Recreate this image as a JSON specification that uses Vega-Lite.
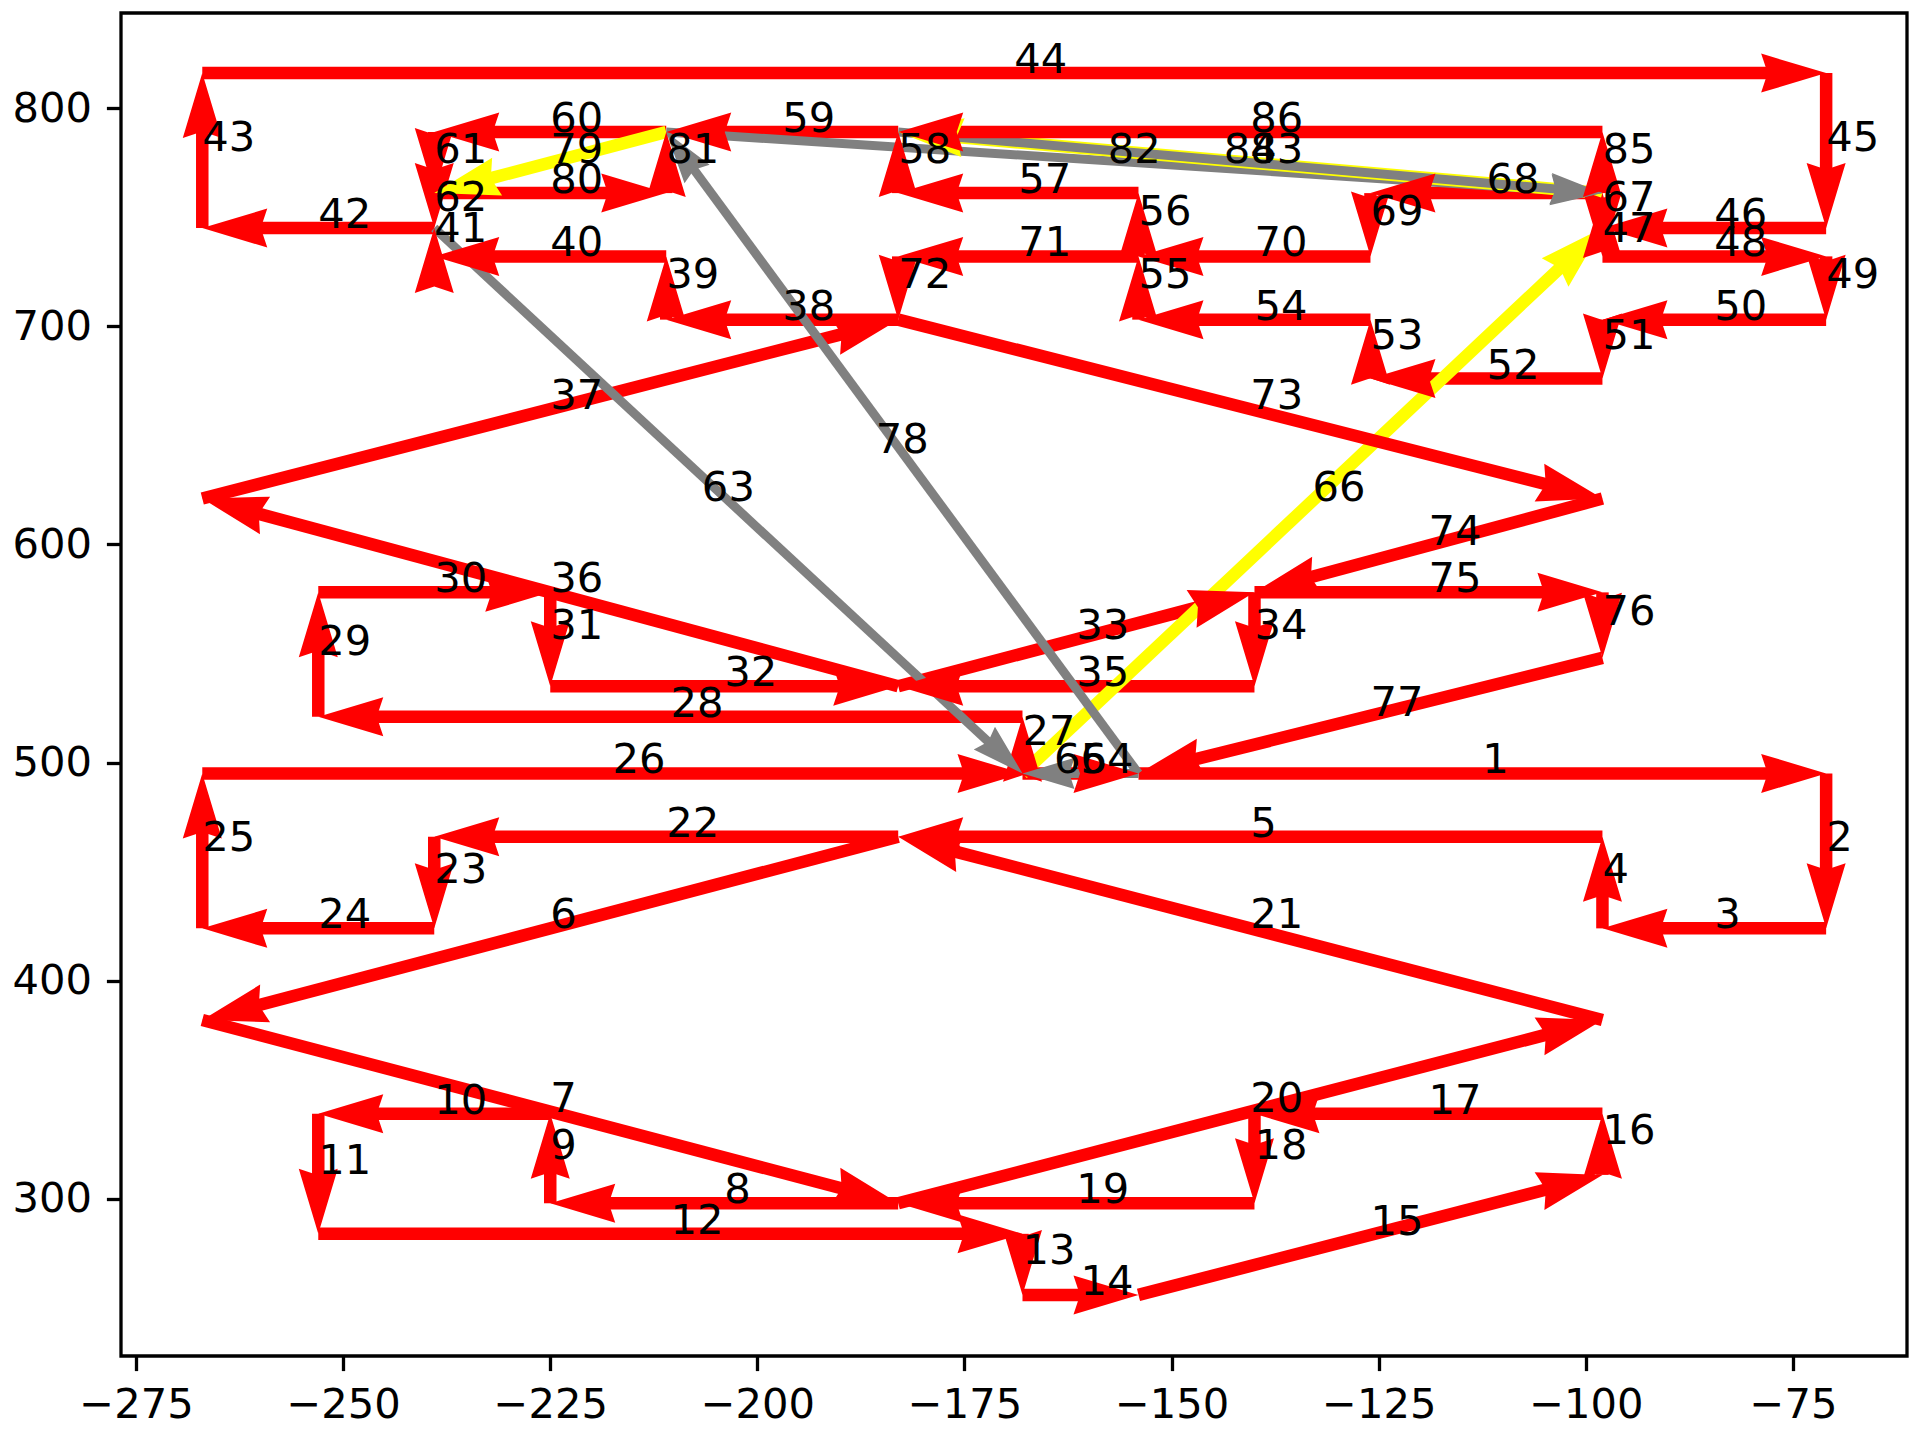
{
  "$schema": "https://vega.github.io/schema/vega-lite/v6.json",
  "width": 1786,
  "height": 1343,
  "autosize": {"type": "none"},
  "padding": {"left": 121, "top": 13, "right": 13, "bottom": 84},
  "background": "white",
  "config": {"view": {"stroke": "black", "strokeWidth": 3.3}, "font": "DejaVu Sans"},
  "data": {"values": [
    {"n":1,"x":-154,"y":495,"x2":-71,"y2":495,"c":"red"},
    {"n":2,"x":-71,"y":495,"x2":-71,"y2":424,"c":"red"},
    {"n":3,"x":-71,"y":424,"x2":-98,"y2":424,"c":"red"},
    {"n":4,"x":-98,"y":424,"x2":-98,"y2":466,"c":"red"},
    {"n":5,"x":-98,"y":466,"x2":-183,"y2":466,"c":"red"},
    {"n":6,"x":-183,"y":466,"x2":-267,"y2":382,"c":"red"},
    {"n":7,"x":-267,"y":382,"x2":-183,"y2":298,"c":"red"},
    {"n":8,"x":-183,"y":298,"x2":-225,"y2":298,"c":"red"},
    {"n":9,"x":-225,"y":298,"x2":-225,"y2":339,"c":"red"},
    {"n":10,"x":-225,"y":339,"x2":-253,"y2":339,"c":"red"},
    {"n":11,"x":-253,"y":339,"x2":-253,"y2":284,"c":"red"},
    {"n":12,"x":-253,"y":284,"x2":-168,"y2":284,"c":"red"},
    {"n":13,"x":-168,"y":284,"x2":-168,"y2":256,"c":"red"},
    {"n":14,"x":-168,"y":256,"x2":-154,"y2":256,"c":"red"},
    {"n":15,"x":-154,"y":256,"x2":-98,"y2":311,"c":"red"},
    {"n":16,"x":-98,"y":311,"x2":-98,"y2":339,"c":"red"},
    {"n":17,"x":-98,"y":339,"x2":-140,"y2":339,"c":"red"},
    {"n":18,"x":-140,"y":339,"x2":-140,"y2":298,"c":"red"},
    {"n":19,"x":-140,"y":298,"x2":-183,"y2":298,"c":"red"},
    {"n":20,"x":-183,"y":298,"x2":-98,"y2":382,"c":"red"},
    {"n":21,"x":-98,"y":382,"x2":-183,"y2":466,"c":"red"},
    {"n":22,"x":-183,"y":466,"x2":-239,"y2":466,"c":"red"},
    {"n":23,"x":-239,"y":466,"x2":-239,"y2":424,"c":"red"},
    {"n":24,"x":-239,"y":424,"x2":-267,"y2":424,"c":"red"},
    {"n":25,"x":-267,"y":424,"x2":-267,"y2":495,"c":"red"},
    {"n":26,"x":-267,"y":495,"x2":-168,"y2":495,"c":"red"},
    {"n":27,"x":-168,"y":495,"x2":-168,"y2":521,"c":"red"},
    {"n":28,"x":-168,"y":521,"x2":-253,"y2":521,"c":"red"},
    {"n":29,"x":-253,"y":521,"x2":-253,"y2":578,"c":"red"},
    {"n":30,"x":-253,"y":578,"x2":-225,"y2":578,"c":"red"},
    {"n":31,"x":-225,"y":578,"x2":-225,"y2":535,"c":"red"},
    {"n":32,"x":-225,"y":535,"x2":-183,"y2":535,"c":"red"},
    {"n":33,"x":-183,"y":535,"x2":-140,"y2":578,"c":"red"},
    {"n":34,"x":-140,"y":578,"x2":-140,"y2":535,"c":"red"},
    {"n":35,"x":-140,"y":535,"x2":-183,"y2":535,"c":"red"},
    {"n":36,"x":-183,"y":535,"x2":-267,"y2":621,"c":"red"},
    {"n":37,"x":-267,"y":621,"x2":-183,"y2":703,"c":"red"},
    {"n":38,"x":-183,"y":703,"x2":-211,"y2":703,"c":"red"},
    {"n":39,"x":-211,"y":703,"x2":-211,"y2":732,"c":"red"},
    {"n":40,"x":-211,"y":732,"x2":-239,"y2":732,"c":"red"},
    {"n":41,"x":-239,"y":732,"x2":-239,"y2":745,"c":"red"},
    {"n":42,"x":-239,"y":745,"x2":-267,"y2":745,"c":"red"},
    {"n":43,"x":-267,"y":745,"x2":-267,"y2":816,"c":"red"},
    {"n":44,"x":-267,"y":816,"x2":-71,"y2":816,"c":"red"},
    {"n":45,"x":-71,"y":816,"x2":-71,"y2":745,"c":"red"},
    {"n":46,"x":-71,"y":745,"x2":-98,"y2":745,"c":"red"},
    {"n":47,"x":-98,"y":745,"x2":-98,"y2":732,"c":"red"},
    {"n":48,"x":-98,"y":732,"x2":-71,"y2":732,"c":"red"},
    {"n":49,"x":-71,"y":732,"x2":-71,"y2":703,"c":"red"},
    {"n":50,"x":-71,"y":703,"x2":-98,"y2":703,"c":"red"},
    {"n":51,"x":-98,"y":703,"x2":-98,"y2":676,"c":"red"},
    {"n":52,"x":-98,"y":676,"x2":-126,"y2":676,"c":"red"},
    {"n":53,"x":-126,"y":676,"x2":-126,"y2":703,"c":"red"},
    {"n":54,"x":-126,"y":703,"x2":-154,"y2":703,"c":"red"},
    {"n":55,"x":-154,"y":703,"x2":-154,"y2":732,"c":"red"},
    {"n":56,"x":-154,"y":732,"x2":-154,"y2":761,"c":"red"},
    {"n":57,"x":-154,"y":761,"x2":-183,"y2":761,"c":"red"},
    {"n":58,"x":-183,"y":761,"x2":-183,"y2":789,"c":"red"},
    {"n":59,"x":-183,"y":789,"x2":-211,"y2":789,"c":"red"},
    {"n":60,"x":-211,"y":789,"x2":-239,"y2":789,"c":"red"},
    {"n":61,"x":-239,"y":789,"x2":-239,"y2":761,"c":"red"},
    {"n":62,"x":-239,"y":761,"x2":-239,"y2":745,"c":"red"},
    {"n":63,"x":-239,"y":745,"x2":-168,"y2":495,"c":"gray"},
    {"n":64,"x":-168,"y":495,"x2":-154,"y2":495,"c":"red"},
    {"n":65,"x":-154,"y":495,"x2":-168,"y2":495,"c":"gray"},
    {"n":66,"x":-168,"y":495,"x2":-98,"y2":745,"c":"yellow"},
    {"n":67,"x":-98,"y":745,"x2":-98,"y2":761,"c":"red"},
    {"n":68,"x":-98,"y":761,"x2":-126,"y2":761,"c":"red"},
    {"n":69,"x":-126,"y":761,"x2":-126,"y2":732,"c":"red"},
    {"n":70,"x":-126,"y":732,"x2":-154,"y2":732,"c":"red"},
    {"n":71,"x":-154,"y":732,"x2":-183,"y2":732,"c":"red"},
    {"n":72,"x":-183,"y":732,"x2":-183,"y2":703,"c":"red"},
    {"n":73,"x":-183,"y":703,"x2":-98,"y2":621,"c":"red"},
    {"n":74,"x":-98,"y":621,"x2":-140,"y2":578,"c":"red"},
    {"n":75,"x":-140,"y":578,"x2":-98,"y2":578,"c":"red"},
    {"n":76,"x":-98,"y":578,"x2":-98,"y2":548,"c":"red"},
    {"n":77,"x":-98,"y":548,"x2":-154,"y2":495,"c":"red"},
    {"n":78,"x":-154,"y":495,"x2":-211,"y2":789,"c":"gray"},
    {"n":79,"x":-211,"y":789,"x2":-239,"y2":761,"c":"yellow"},
    {"n":80,"x":-239,"y":761,"x2":-211,"y2":761,"c":"red"},
    {"n":81,"x":-211,"y":761,"x2":-211,"y2":789,"c":"red"},
    {"n":82,"x":-211,"y":789,"x2":-98,"y2":761,"c":"gray"},
    {"n":83,"x":-98,"y":761,"x2":-183,"y2":789,"c":"yellow"},
    {"n":84,"x":-183,"y":789,"x2":-98,"y2":761,"c":"gray"},
    {"n":85,"x":-98,"y":761,"x2":-98,"y2":789,"c":"red"},
    {"n":86,"x":-98,"y":789,"x2":-183,"y2":789,"c":"red"}
  ]},
  "transform": [
    {"calculate": "(datum.x2 - datum.x) * 8.2850", "as": "px"},
    {"calculate": "(datum.y2 - datum.y) * 2.18179", "as": "py"},
    {"calculate": "sqrt(datum.px * datum.px + datum.py * datum.py)", "as": "len"},
    {"calculate": "datum.c == 'gray' ? 44 : 56", "as": "hl"},
    {"calculate": "datum.x2 - datum.hl * datum.px / datum.len / 8.2850", "as": "sx"},
    {"calculate": "datum.y2 - datum.hl * datum.py / datum.len / 2.18179", "as": "sy"},
    {"calculate": "atan2(-datum.py, datum.px) * 180 / PI", "as": "ang"},
    {"calculate": "(datum.x + datum.x2) / 2", "as": "mx"},
    {"calculate": "(datum.y + datum.y2) / 2", "as": "my"}
  ],
  "layer": [
    {
      "mark": {"type": "rule", "strokeCap": "butt"},
      "encoding": {
        "x": {"field": "x", "type": "quantitative",
              "scale": {"domain": [-276.81, -61.24], "nice": false, "zero": false},
              "axis": {"values": [-275, -250, -225, -200, -175, -150, -125, -100, -75], "format": "d", "title": null, "grid": false, "domain": false, "tickSize": 14.6, "tickWidth": 3.3, "tickColor": "black", "labelFont": "DejaVu Sans", "labelFontSize": 41.67, "labelColor": "black", "labelPadding": 14, "labelFlush": false, "labelOverlap": false}},
        "y": {"field": "y", "type": "quantitative",
              "scale": {"domain": [228.0, 843.55], "nice": false, "zero": false},
              "axis": {"values": [300, 400, 500, 600, 700, 800], "format": "d", "title": null, "grid": false, "domain": false, "tickSize": 14.6, "tickWidth": 3.3, "tickColor": "black", "labelFont": "DejaVu Sans", "labelFontSize": 41.67, "labelColor": "black", "labelPadding": 15, "labelFlush": false, "labelOverlap": false}},
        "x2": {"field": "sx"},
        "y2": {"field": "sy"},
        "color": {"field": "c", "type": "nominal", "scale": {"type": "ordinal", "domain": ["red", "gray", "yellow"], "range": ["#ff0000", "#808080", "#ffff00"]}, "legend": null},
        "strokeWidth": {"field": "c", "type": "nominal", "scale": {"type": "ordinal", "domain": ["red", "gray", "yellow"], "range": [12.5, 9, 12.5]}, "legend": null}
      }
    },
    {
      "mark": {"type": "point", "filled": true, "opacity": 1, "strokeWidth": 0, "shape": "M0,0L-1,-0.3L-0.9,0L-1,0.3Z"},
      "encoding": {
        "x": {"field": "x2", "type": "quantitative", "scale": {"domain": [-276.81, -61.24], "nice": false, "zero": false}},
        "y": {"field": "y2", "type": "quantitative", "scale": {"domain": [228.0, 843.55], "nice": false, "zero": false}},
        "angle": {"field": "ang", "type": "quantitative", "scale": null},
        "size": {"field": "c", "type": "nominal", "scale": {"type": "ordinal", "domain": ["red", "gray", "yellow"], "range": [16900, 10816, 16900]}, "legend": null},
        "color": {"field": "c", "type": "nominal", "scale": {"type": "ordinal", "domain": ["red", "gray", "yellow"], "range": ["#ff0000", "#808080", "#ffff00"]}, "legend": null}
      }
    },
    {
      "transform": [{"filter": "datum.c != 'gray'"}],
      "mark": {"type": "text", "align": "left", "baseline": "alphabetic", "font": "DejaVu Sans", "fontSize": 41.67, "fill": "black"},
      "encoding": {
        "x": {"field": "mx", "type": "quantitative", "scale": {"domain": [-276.81, -61.24], "nice": false, "zero": false}},
        "y": {"field": "my", "type": "quantitative", "scale": {"domain": [228.0, 843.55], "nice": false, "zero": false}},
        "text": {"field": "n", "type": "nominal"}
      }
    },
    {
      "transform": [{"filter": "datum.c == 'gray'"}],
      "mark": {"type": "text", "align": "center", "baseline": "alphabetic", "font": "DejaVu Sans", "fontSize": 41.67, "fill": "black"},
      "encoding": {
        "x": {"field": "mx", "type": "quantitative", "scale": {"domain": [-276.81, -61.24], "nice": false, "zero": false}},
        "y": {"field": "my", "type": "quantitative", "scale": {"domain": [228.0, 843.55], "nice": false, "zero": false}},
        "text": {"field": "n", "type": "nominal"}
      }
    }
  ]
}
